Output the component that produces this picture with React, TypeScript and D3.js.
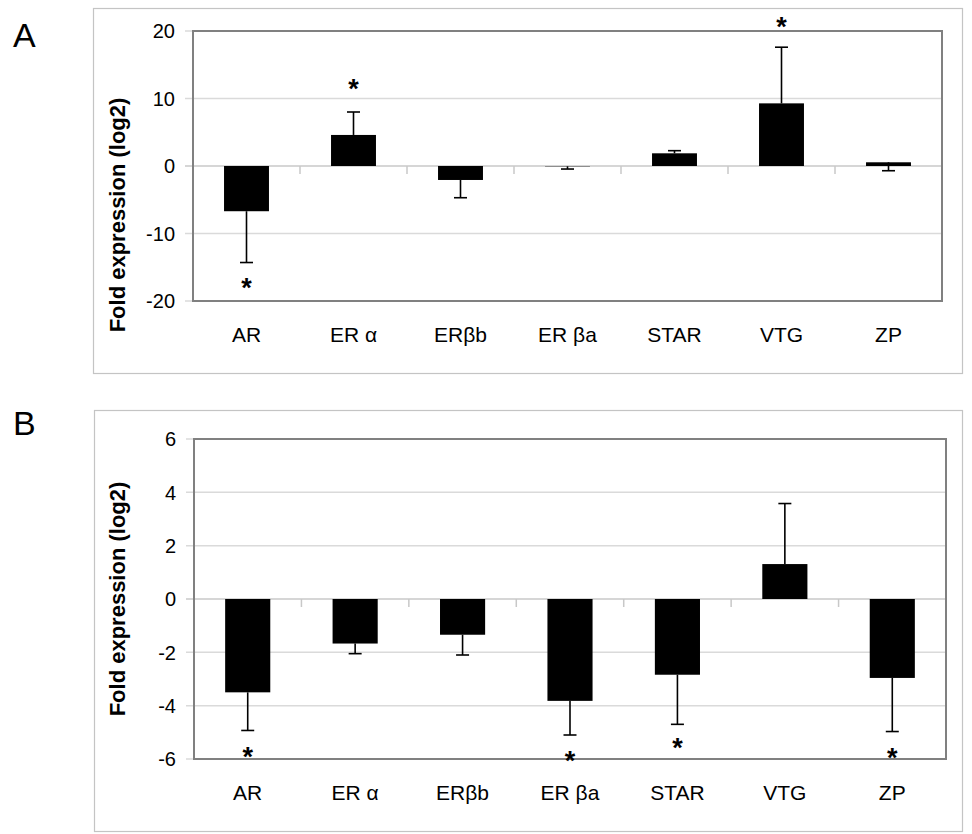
import React from "react";
import * as d3 from "d3";

const categories = ["AR", "ER α", "ERβb", "ER βa", "STAR", "VTG", "ZP"];

const aValues = [-6.7, 4.6, -2.07, -0.05, 1.88, 9.28, 0.55];
const aErrEnd = [-14.3, 8.0, -4.7, -0.45, 2.27, 17.6, -0.7];
const aStars: (number | null)[] = [-17.2, 12.4, null, null, null, 21.5, null];
const aTicks = [-20, -10, 0, 10, 20];

const bValues = [-3.5, -1.67, -1.34, -3.82, -2.84, 1.31, -2.96];
const bErrEnd = [-4.93, -2.05, -2.1, -5.1, -4.7, 3.58, -4.97];
const bStars: (number | null)[] = [-5.7, null, null, -5.82, -5.35, null, -5.72];
const bTicks = [-6, -4, -2, 0, 2, 4, 6];

const FONT = "'Liberation Sans', Arial, Helvetica, sans-serif";

type PanelProps = {
  letter: string;
  letterY: number;
  outer: { x0: number; y0: number; x1: number; y1: number };
  plot: { x0: number; y0: number; x1: number; y1: number };
  domain: [number, number];
  ticks: number[];
  values: number[];
  errEnd: number[];
  stars: (number | null)[];
  titleCenterY: number;
};

function Panel(p: PanelProps) {
  const x = d3
    .scaleBand<string>()
    .domain(categories)
    .range([p.plot.x0, p.plot.x1])
    .paddingInner(0.58)
    .paddingOuter(0.29);
  const y = d3.scaleLinear().domain(p.domain).range([p.plot.y1, p.plot.y0]);
  const y0 = y(0);
  const step = x.step();
  const bw = x.bandwidth();
  const capW = 13;
  return (
    <g>
      <text x={13} y={p.letterY} fontFamily={FONT} fontSize={34}>
        {p.letter}
      </text>
      <rect
        x={p.outer.x0 + 0.5}
        y={p.outer.y0 + 0.5}
        width={p.outer.x1 - p.outer.x0}
        height={p.outer.y1 - p.outer.y0}
        fill="white"
        stroke="#c4c4c4"
        strokeWidth={1.2}
      />
      {p.ticks.map((t) => (
        <line
          key={"g" + t}
          x1={p.plot.x0 - 8}
          x2={p.plot.x1}
          y1={y(t)}
          y2={y(t)}
          stroke={t === 0 ? "#c8c8c8" : "#dadada"}
          strokeWidth={1.5}
        />
      ))}
      {categories.slice(1).map((c, i) => {
        const xx = p.plot.x0 + step * (i + 1);
        return (
          <line
            key={"xt" + i}
            x1={xx}
            x2={xx}
            y1={y0}
            y2={y0 + 8}
            stroke="#c8c8c8"
            strokeWidth={1.5}
          />
        );
      })}
      {categories.map((c, i) => {
        const v = p.values[i];
        return (
          <rect
            key={"b" + c}
            x={x(c)!}
            y={Math.min(y(v), y0)}
            width={bw}
            height={Math.abs(y(v) - y0)}
            fill="#000"
          />
        );
      })}
      {categories.map((c, i) => {
        const cx = x(c)! + bw / 2;
        return (
          <g key={"e" + c} stroke="#000" strokeWidth={1.6}>
            <line x1={cx} x2={cx} y1={y(p.values[i])} y2={y(p.errEnd[i])} />
            <line
              x1={cx - capW / 2}
              x2={cx + capW / 2}
              y1={y(p.errEnd[i])}
              y2={y(p.errEnd[i])}
            />
          </g>
        );
      })}
      <rect
        x={p.plot.x0}
        y={p.plot.y0}
        width={p.plot.x1 - p.plot.x0}
        height={p.plot.y1 - p.plot.y0}
        fill="none"
        stroke="#808080"
        strokeWidth={2}
      />
      {p.ticks.map((t) => (
        <text
          key={"yl" + t}
          x={p.plot.x0 - 18}
          y={y(t)}
          dy="0.36em"
          textAnchor="end"
          fontFamily={FONT}
          fontSize={20}
          fill="#000"
        >
          {t}
        </text>
      ))}
      {categories.map((c) => (
        <text
          key={"cl" + c}
          x={x(c)! + bw / 2}
          y={p.plot.y1 + 41}
          textAnchor="middle"
          fontFamily={FONT}
          fontSize={21}
          fill="#000"
        >
          {c}
        </text>
      ))}
      {categories.map((c, i) => {
        const s = p.stars[i];
        if (s === null) return null;
        return (
          <text
            key={"s" + c}
            x={x(c)! + bw / 2}
            y={y(s) + 0.57 * 27}
            textAnchor="middle"
            fontFamily={FONT}
            fontWeight="bold"
            fontSize={27}
            fill="#000"
          >
            *
          </text>
        );
      })}
      <text
        transform={`translate(${125},${p.titleCenterY}) rotate(-90)`}
        textAnchor="middle"
        fontFamily={FONT}
        fontWeight="bold"
        fontSize={22}
        fill="#000"
      >
        Fold expression (log2)
      </text>
    </g>
  );
}

export default function App() {
  return (
    <svg
      width={972}
      height={834}
      style={{ position: "absolute", left: 0, top: 0, background: "#fff" }}
    >
      <rect x={0} y={0} width={972} height={834} fill="#fff" />
      <Panel
        letter="A"
        letterY={47}
        outer={{ x0: 93, y0: 8, x1: 962, y1: 373 }}
        plot={{ x0: 193, y0: 31, x1: 942, y1: 301 }}
        domain={[-20, 20]}
        ticks={aTicks}
        values={aValues}
        errEnd={aErrEnd}
        stars={aStars}
        titleCenterY={215}
      />
      <Panel
        letter="B"
        letterY={435}
        outer={{ x0: 94, y0: 410, x1: 962, y1: 831 }}
        plot={{ x0: 194, y0: 439, x1: 946, y1: 759 }}
        domain={[-6, 6]}
        ticks={bTicks}
        values={bValues}
        errEnd={bErrEnd}
        stars={bStars}
        titleCenterY={599}
      />
    </svg>
  );
}
